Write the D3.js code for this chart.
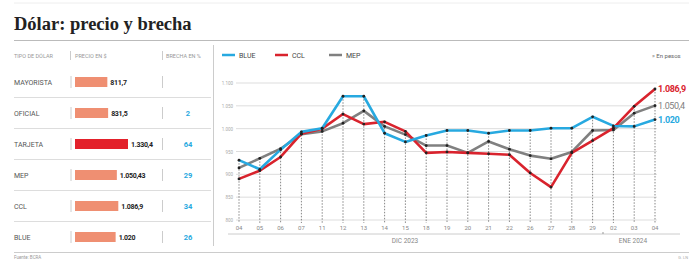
<!DOCTYPE html>
<html><head><meta charset="utf-8">
<script src="https://cdn.jsdelivr.net/npm/d3@7"></script>
<style>body{margin:0;background:#fff}svg{display:block}</style>
</head><body><svg id="c" width="689" height="259"></svg>
<script>
const dates = ["04","05","06","07","11","12","13","14","15","18","19","20","21","22","26","27","28","29","02","03","04"];
const blue = [931,911,954,993,1001,1071,1071,990,971,985,996,996,990,996,996,1001,1001,1026,1006,1005,1020];
const ccl  = [890,908,938,989,1000,1032,1010,1015,994,947,949,947,945,943,903,872,947,974,1001,1049,1086.9];
const mep  = [914,935,956,988,994,1012,1039,1005,987,963,963,947,972,955,941,934,949,996,997,1034,1050.43];
const yTicks = [800,850,900,950,1000,1050,1100];
const yTickLabels = ["800","850","900","950","1.000","1.050","1.100"];
const tipos = ["MAYORISTA","OFICIAL","TARJETA","MEP","CCL","BLUE"];
const precios = [811.7,831.5,1330.4,1050.43,1086.9,1020];
const preciosLabel = ["811,7","831,5","1.330,4","1.050,43","1.086,9","1.020"];
const brechas = ["","2","64","29","34","26"];
const endLabels = ["1.086,9","1.050,4","1.020"];

const svg = d3.select("#c");
const BLUE="#27a9e0", RED="#d9232d", GRAY="#808080";

svg.append("line").attr("x1",14).attr("x2",689).attr("y1",3).attr("y2",3).attr("stroke","#eee");
svg.append("text").attr("x",14).attr("y",30).text("Dólar: precio y brecha")
  .attr("font-family","Liberation Serif, serif").attr("font-weight","bold").attr("font-size",18.5).attr("fill","#222");
svg.append("line").attr("x1",14).attr("x2",689).attr("y1",40.5).attr("y2",40.5).attr("stroke","#bbb");

function txt(x,y,s,size,fill,anchor,weight){
  return svg.append("text").attr("x",x).attr("y",y).text(s).attr("font-family","Roboto, sans-serif")
    .attr("font-size",size).attr("fill",fill).attr("text-anchor",anchor||"start").attr("font-weight",weight||"normal");
}
txt(14,58,"TIPO DE DÓLAR",5.5,"#999");
txt(75,58,"PRECIO EN $",5.5,"#999");
txt(166,58,"BRECHA EN %",5.5,"#999");
[[70.5,51,60],[162.5,51,60],[213.5,51,60]].forEach(d=>svg.append("line").attr("x1",d[0]).attr("x2",d[0]).attr("y1",d[1]).attr("y2",d[2]).attr("stroke","#ccc"));

const leg=[["BLUE",BLUE,222],["CCL",RED,275],["MEP",GRAY,329]];
leg.forEach(l=>{
  svg.append("line").attr("x1",l[2]).attr("x2",l[2]+13).attr("y1",55).attr("y2",55).attr("stroke",l[1]).attr("stroke-width",2.5);
  txt(l[2]+17,58,l[0],7,"#444");
});
txt(652,58,"» En pesos",6,"#666");

const rowY = d3.scalePoint().domain(tipos).range([82,237]);
const barW = d3.scaleLinear().domain([0,1330.4]).range([0,53]);
tipos.forEach((t,i)=>{
  const y=rowY(t);
  txt(14,y+3,t,7,"#555");
  svg.append("line").attr("x1",71).attr("x2",71).attr("y1",y-6).attr("y2",y+6).attr("stroke","#ccc");
  svg.append("line").attr("x1",162.5).attr("x2",162.5).attr("y1",y-6).attr("y2",y+6).attr("stroke","#ccc");
  svg.append("rect").attr("x",75).attr("y",y-5).attr("width",barW(precios[i])).attr("height",10)
    .attr("fill", t==="TARJETA"?"#e3212b":"#ef8f72");
  txt(75+barW(precios[i])+3,y+2.5,preciosLabel[i],7,"#222","start","bold").attr("letter-spacing",-0.3);
  txt(188,y+3,brechas[i],7.5,BLUE,"middle","bold");
  if(i<tipos.length-1){
    svg.append("line").attr("x1",14).attr("x2",211).attr("y1",y+15.5).attr("y2",y+15.5).attr("stroke","#ddd");
  }
});
svg.append("line").attr("x1",213.5).attr("x2",213.5).attr("y1",45).attr("y2",246).attr("stroke","#ccc");

const x = d3.scalePoint().domain(d3.range(dates.length)).range([239,655]);
const y = d3.scaleLinear().domain([800,1100]).range([220,83]);
yTicks.forEach((t,i)=>{
  svg.append("line").attr("x1",236).attr("x2",657).attr("y1",y(t)).attr("y2",y(t)).attr("stroke","#ddd").attr("stroke-width",1);
  txt(233,y(t)+2,yTickLabels[i],4.5,"#aaa","end");
});
dates.forEach((d,i)=>{
  const top = Math.min(y(blue[i]),y(ccl[i]),y(mep[i]));
  svg.append("line").attr("x1",x(i)).attr("x2",x(i)).attr("y1",top).attr("y2",223)
    .attr("stroke","#555").attr("stroke-width",0.7).attr("stroke-dasharray","1.5,1.5");
  txt(x(i),230,d,6,"#888","middle");
});
svg.append("line").attr("x1",228).attr("x2",680).attr("y1",234).attr("y2",234).attr("stroke","#ccc");
svg.append("line").attr("x1",603).attr("x2",603).attr("y1",232).attr("y2",234).attr("stroke","#999");
txt(405,243,"DIC 2023",6.5,"#888","middle");
txt(633,243,"ENE 2024",6.5,"#888","middle");

const line = d3.line().x((d,i)=>x(i)).y(d=>y(d));
[[mep,GRAY],[ccl,RED],[blue,BLUE]].forEach(s=>{
  svg.append("path").attr("d",line(s[0])).attr("fill","none").attr("stroke",s[1]).attr("stroke-width",2.6).attr("stroke-linejoin","round");
});
[mep,ccl,blue].forEach(s=>{
  s.forEach((v,i)=>svg.append("circle").attr("cx",x(i)).attr("cy",y(v)).attr("r",1.4).attr("fill","#222"));
});
const last = dates.length-1;
[[ccl,RED,endLabels[0],"bold"],[mep,GRAY,endLabels[1],"normal"],[blue,BLUE,endLabels[2],"bold"]].forEach(s=>{
  txt(658,y(s[0][last])+3.5,s[2],9,s[1],"start",s[3]).attr("letter-spacing",-0.4);
});

svg.append("line").attr("x1",14).attr("x2",689).attr("y1",252.5).attr("y2",252.5).attr("stroke","#ccc");
txt(14,259,"Fuente: BCRA",4.5,"#999");
txt(688,259,"G. LN",4,"#aaa","end");
</script></body></html>
